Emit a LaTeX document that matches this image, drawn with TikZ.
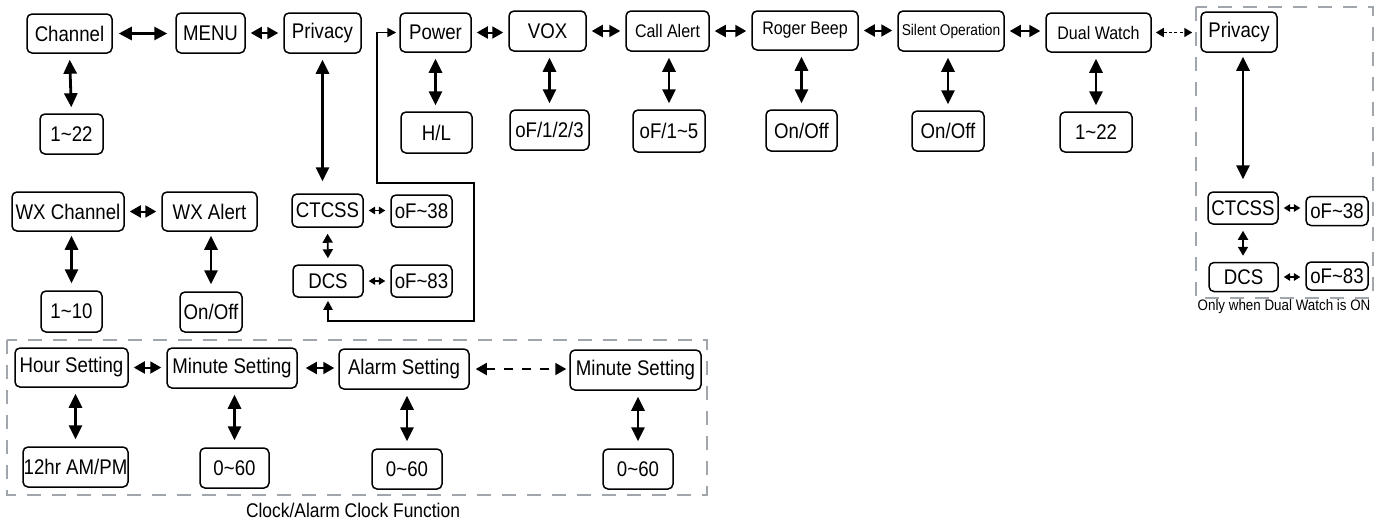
\documentclass[tikz,border=0pt]{standalone}
\usepackage{fontspec}
\setmainfont{Liberation Sans}[FakeStretch=0.88]
\usetikzlibrary{arrows.meta}
\definecolor{dashgray}{RGB}{160,166,172}
\begin{document}
\begin{tikzpicture}[x=0.5pt,y=-0.5pt,
  box/.style={draw, line width=0.75pt, rounded corners=2.5pt, inner sep=0pt, align=center,
    font=\fontsize{10.6}{12}\selectfont},
  wh/.style args={#1x#2}{minimum width=#1*0.5pt, minimum height=#2*0.5pt},
  midf/.style={font=\fontsize{9.1}{11}\selectfont},
  smallf/.style={font=\fontsize{7.8}{9}\selectfont},
  vbig/.style={line width=1.4pt, arrows={Triangle[width=6.5pt,length=7pt]-Triangle[width=6.5pt,length=7pt]},
    shorten <=3pt, shorten >=3pt},
  hbig/.style={line width=1.4pt, arrows={Triangle[width=6.5pt,length=6.5pt]-Triangle[width=6.5pt,length=6.5pt]},
    shorten <=3pt, shorten >=4pt},
  hmed/.style={line width=1pt, arrows={Triangle[width=6pt,length=5.5pt]-Triangle[width=6pt,length=5.5pt]},
    shorten <=2.5pt, shorten >=2.5pt},
  hsmall/.style={line width=0.6pt, arrows={Triangle[width=3.8pt,length=3.2pt]-Triangle[width=3.8pt,length=3.2pt]},
    shorten <=2.5pt, shorten >=2.5pt},
  vmed/.style={line width=0.9pt, arrows={Triangle[width=5pt,length=4.5pt]-Triangle[width=5pt,length=4.5pt]},
    shorten <=3pt, shorten >=3pt},
  loopline/.style={line width=0.9pt, arrows={Triangle[width=4.5pt,length=4.5pt]-Triangle[width=4.5pt,length=4.5pt]}},
  gbox/.style={draw=dashgray, line width=1.2pt, dash pattern=on 7pt off 5.5pt},
  caption/.style={inner sep=0pt, font=\fontsize{9.9}{11}\selectfont}
]
\useasboundingbox (0,0) rectangle (1381,520);

% dashed frames
\draw[gbox] (7,340) rectangle (707,495);
\draw[gbox] (1196,7) rectangle (1373,298);

% top row
\node[box, wh=85x39] (ch) at (69.5,33.5) {Channel};
\node[box, wh=69x40] (menu) at (210.5,33) {MENU};
\node[box, wh=77x40] (priv) at (322.5,33) {Privacy};
\node[box, wh=71x39] (pow) at (435.5,32.5) {Power};
\node[box, wh=77x40] (vox) at (547.5,31) {VOX};
\node[box, midf, wh=83x40] (call) at (667.5,31) {Call Alert};
\node[box, midf, wh=106x39] (rog) at (805,30.5) {Roger Beep};
\node[box, smallf, wh=106x40] (sil) at (951,31) {Silent Operation};
\node[box, midf, wh=105x39] (dual) at (1098.5,32.5) {Dual Watch};
\node[box, wh=76x40] (priv2) at (1239,32) {Privacy};

% second row
\node[box, wh=63x40] (ch1) at (71.5,134) {1\textasciitilde22};
\node[box, wh=71x41] (hl) at (436.5,132.5) {H/L};
\node[box, wh=79x40] (vox1) at (549.5,130) {oF/1/2/3};
\node[box, wh=72x42] (call1) at (669,131) {oF/1\textasciitilde5};
\node[box, wh=71x41] (rog1) at (801.5,130.5) {On/Off};
\node[box, wh=72x40] (sil1) at (948,131) {On/Off};
\node[box, wh=72x40] (dual1) at (1096,132) {1\textasciitilde22};

% middle
\node[box, wh=112x39] (wx) at (68,211.5) {WX Channel};
\node[box, wh=95x39] (wxa) at (209.5,211.5) {WX Alert};
\node[box, wh=61x41] (wx1) at (71.5,311.5) {1\textasciitilde10};
\node[box, wh=62x40] (wxa1) at (211,312) {On/Off};
\node[box, wh=71x33] (ct) at (327.5,210.5) {CTCSS};
\node[box, wh=61x32] (ct1) at (421.5,211) {oF\textasciitilde38};
\node[box, wh=70x32] (dcs) at (328,281) {DCS};
\node[box, wh=61x32] (dcs1) at (421.5,281) {oF\textasciitilde83};
\node[box, wh=70x32] (ct2) at (1243,208) {CTCSS};
\node[box, wh=62x29] (ct21) at (1337,211) {oF\textasciitilde38};
\node[box, wh=69x29] (dcs2) at (1243.5,277) {DCS};
\node[box, wh=62x28] (dcs21) at (1337,276) {oF\textasciitilde83};

% bottom
\node[box, wh=113x39] (hr) at (71.5,367.5) {Hour Setting};
\node[box, wh=130x40] (min) at (232,368) {Minute Setting};
\node[box, wh=130x40] (alm) at (404,369) {Alarm Setting};
\node[box, wh=131x40] (min2) at (635.5,370) {Minute Setting};
\node[box, wh=105x40] (hr1) at (75.5,467) {12hr AM/PM};
\node[box, wh=69x40] (min1) at (234.5,468) {0\textasciitilde60};
\node[box, wh=70x40] (alm1) at (407,469) {0\textasciitilde60};
\node[box, wh=70x40] (min21) at (638,469) {0\textasciitilde60};

% captions
\node[caption] (capclock) at (353,510) {Clock/Alarm Clock Function};
\node[caption, font=\fontsize{7.6}{9}\selectfont] (capdual) at (1284,307) {Only when Dual Watch is ON};

% top horizontal connectors
\draw[hbig] (ch.east) -- (ch.east -| menu.west);
\draw[hmed] (menu.east) -- (menu.east -| priv.west);
\draw[hmed] (pow.east) -- (pow.east -| vox.west);
\draw[hmed] (vox.east) -- (vox.east -| call.west);
\draw[hmed] (call.east) -- (call.east -| rog.west);
\draw[hmed] (rog.east) -- (rog.east -| sil.west);
\draw[hmed] (sil.east) -- (sil.east -| dual.west);
\draw[hmed, arrows={Triangle[width=4.5pt,length=4pt]-Triangle[width=4.5pt,length=4pt]}, line width=0.8pt,
  dash pattern=on 1.6pt off 1.1pt, shorten <=2pt, shorten >=4pt] (dual.east) -- (dual.east -| priv2.west);

% top vertical connectors
\draw[vbig] (ch.south) -- (ch1.north);
\draw[vbig] (pow.south) -- (pow.south |- hl.north);
\draw[vbig] (vox.south -| vox1.north) -- (vox1.north);
\draw[vbig] (call.south -| call1.north) -- (call1.north);
\draw[vbig] (rog.south -| rog1.north) -- (rog1.north);
\draw[vbig] (sil.south -| sil1.north) -- (sil1.north);
\draw[vbig] (dual.south -| dual1.north) -- (dual1.north);
\draw[vbig, shorten >=6pt] (priv.south) -- (priv.south |- ct.north);
\draw[vbig, shorten <=2pt, shorten >=6pt] (priv2.south -| ct2.north) -- (ct2.north);

% privacy sub-menu (left)
\draw[hsmall] (ct.east) -- (ct.east -| ct1.west);
\draw[hsmall] (dcs.east) -- (dcs.east -| dcs1.west);
\draw[vmed] (ct.south) -- (dcs.north);
% privacy sub-menu (right)
\draw[hsmall] (ct2.east) -- (ct2.east -| ct21.west);
\draw[hsmall] (dcs2.east) -- (dcs2.east -| dcs21.west);
\draw[vmed] (ct2.south) -- (ct2.south |- dcs2.north);

% loop from DCS back to Power
\coordinate (l1) at (377,183);
\coordinate (l2) at (474,183);
\coordinate (l3) at (474,321);
\draw[loopline, shorten <=1.5pt, shorten >=1.5pt] (dcs.south) -- (dcs.south |- l3) -- (l3) -- (l2) -- (l1)
  -- (l1 |- pow.west) -- (pow.west);

% WX
\draw[hmed] (wx.east) -- (wx.east -| wxa.west);
\draw[vbig, shorten <=2pt, shorten >=3.5pt] (wx.south -| wx1.north) -- (wx1.north);
\draw[vbig, shorten <=2pt, shorten >=3.5pt] (wxa.south -| wxa1.north) -- (wxa1.north);

% clock
\draw[hmed] (hr.east) -- (hr.east -| min.west);
\draw[hmed, shorten <=4pt, shorten >=2pt] (min.east) -- (min.east -| alm.west);
\draw[hmed, line width=0.9pt, dash pattern=on 4.5pt off 4.5pt, shorten <=3pt, shorten >=1.5pt]
  (alm.east) -- (alm.east -| min2.west);
\draw[vbig, shorten >=3.5pt] (hr.south -| hr1.north) -- (hr1.north);
\draw[vbig, shorten >=3.5pt] (min.south -| min1.north) -- (min1.north);
\draw[vbig, shorten >=3.5pt] (alm.south -| alm1.north) -- (alm1.north);
\draw[vbig, shorten >=3.5pt] (min2.south -| min21.north) -- (min21.north);
\end{tikzpicture}
\end{document}
